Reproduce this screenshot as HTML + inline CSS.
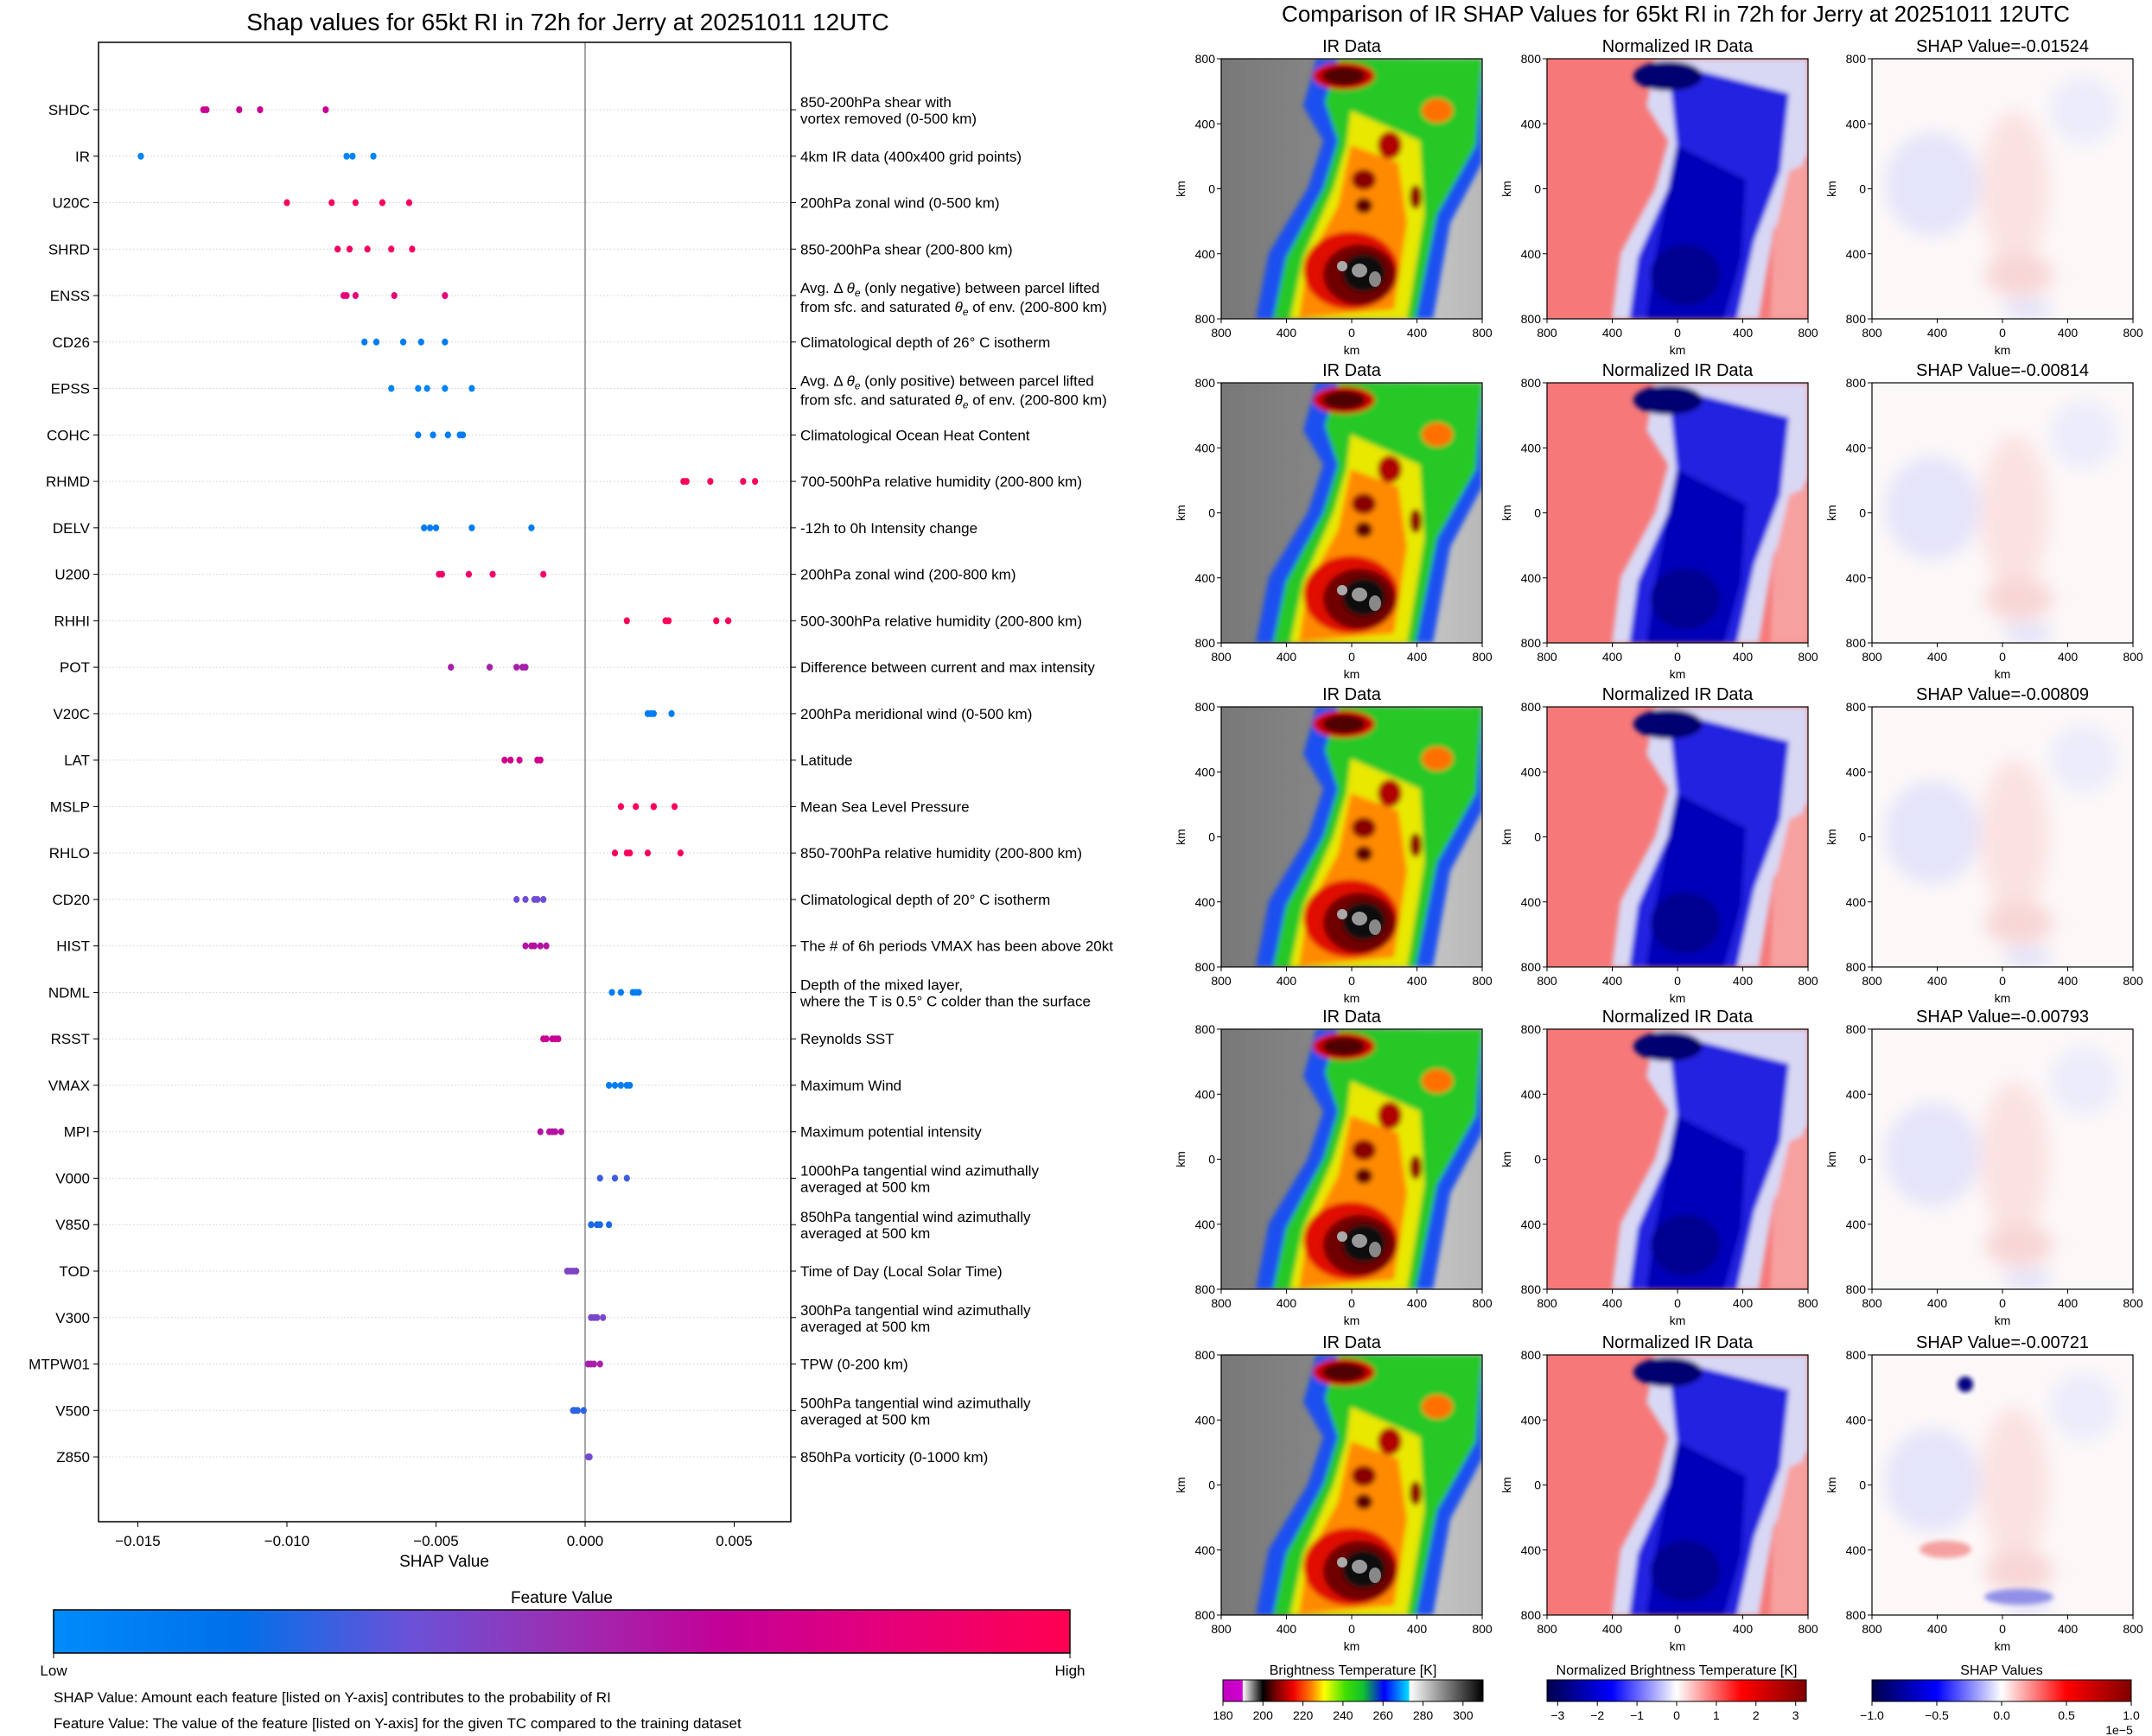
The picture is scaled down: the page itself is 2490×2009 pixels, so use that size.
<!DOCTYPE html>
<html><head><meta charset="utf-8"><style>
html,body{margin:0;padding:0;background:#fff}
svg{display:block;font-family:"Liberation Sans","DejaVu Sans",sans-serif}
</style></head><body>
<svg id="fig" width="2490" height="2009" viewBox="0 0 2490 2009" xmlns="http://www.w3.org/2000/svg">
<defs>
  <linearGradient id="featGrad" x1="0" x2="1" y1="0" y2="0">
    <stop offset="0" stop-color="#008bfb"/><stop offset="0.18" stop-color="#0070ea"/>
    <stop offset="0.35" stop-color="#6a52d8"/><stop offset="0.5" stop-color="#9a2fb2"/>
    <stop offset="0.66" stop-color="#c40097"/><stop offset="0.82" stop-color="#e5007a"/>
    <stop offset="1" stop-color="#ff0052"/>
  </linearGradient>
  <linearGradient id="irGrad" x1="0" x2="1">
    <stop offset="0" stop-color="#c000c0"/><stop offset="0.075" stop-color="#d000d0"/>
    <stop offset="0.077" stop-color="#ffffff"/><stop offset="0.154" stop-color="#000000"/>
    <stop offset="0.2" stop-color="#700000"/><stop offset="0.27" stop-color="#f00000"/>
    <stop offset="0.34" stop-color="#ff8000"/><stop offset="0.39" stop-color="#ffff00"/>
    <stop offset="0.47" stop-color="#40e000"/><stop offset="0.54" stop-color="#10c030"/>
    <stop offset="0.62" stop-color="#0000ff"/><stop offset="0.715" stop-color="#00e0ff"/>
    <stop offset="0.717" stop-color="#ffffff"/>
    <stop offset="1" stop-color="#000000"/>
  </linearGradient>
  <linearGradient id="seisGrad" x1="0" x2="1">
    <stop offset="0" stop-color="#00004c"/><stop offset="0.25" stop-color="#0000ff"/>
    <stop offset="0.5" stop-color="#ffffff"/><stop offset="0.75" stop-color="#ff0000"/>
    <stop offset="1" stop-color="#800000"/>
  </linearGradient>
  <linearGradient id="irBg" x1="0" x2="1">
    <stop offset="0" stop-color="#787878"/><stop offset="0.5" stop-color="#8a8a8a"/>
    <stop offset="0.8" stop-color="#c4c4c4"/><stop offset="1" stop-color="#b8b8b8"/>
  </linearGradient>
  <filter id="bl" x="-20%" y="-20%" width="140%" height="140%"><feGaussianBlur stdDeviation="3"/></filter>
  <filter id="bl2" x="-30%" y="-30%" width="160%" height="160%"><feGaussianBlur stdDeviation="10"/></filter>
  <clipPath id="pc"><rect x="0" y="0" width="302" height="301"/></clipPath>
  <g id="irImg" clip-path="url(#pc)">
    <rect width="302" height="301" fill="url(#irBg)"/>
    <g filter="url(#bl)">
      <path d="M110,0 L302,0 L302,120 L265,190 L245,301 L40,301 L55,225 L100,150 L118,95 L95,55Z" fill="#1a50f0"/>
      <path d="M135,0 L302,0 L295,100 L250,180 L225,301 L60,301 L75,230 L118,150 L135,95 L120,50Z" fill="#28c828"/>
      <path d="M150,60 L230,95 L235,180 L215,301 L80,301 L95,230 L130,150 L145,100Z" fill="#e8e800"/>
      <path d="M150,100 L205,120 L215,190 L200,290 L90,300 L100,235 L135,170Z" fill="#ff8a00"/>
      <ellipse cx="150" cy="245" rx="55" ry="45" fill="#e01000"/>
      <ellipse cx="160" cy="250" rx="42" ry="35" fill="#700000"/>
      <ellipse cx="165" cy="248" rx="25" ry="22" fill="#111"/>
      <ellipse cx="142" cy="20" rx="36" ry="16" fill="#d00000"/>
      <ellipse cx="142" cy="20" rx="25" ry="11" fill="#500000"/>
      <ellipse cx="165" cy="140" rx="14" ry="12" fill="#8a0000"/>
      <ellipse cx="165" cy="170" rx="10" ry="9" fill="#600000"/>
      <ellipse cx="225" cy="160" rx="7" ry="14" fill="#900000"/>
      <ellipse cx="250" cy="60" rx="18" ry="14" fill="#ff7000"/>
      <ellipse cx="195" cy="100" rx="14" ry="16" fill="#b00000"/>
    </g>
    <ellipse cx="160" cy="245" rx="9" ry="8" fill="#999"/><ellipse cx="178" cy="255" rx="7" ry="9" fill="#888"/>
    <ellipse cx="140" cy="240" rx="6" ry="6" fill="#aaa"/>
  </g>
  <g id="nrImg" clip-path="url(#pc)">
    <rect width="302" height="301" fill="#f67878"/>
    <g filter="url(#bl)">
      <path d="M125,0 L302,0 L302,110 L262,200 L245,301 L75,301 L85,225 L125,150 L140,95 L115,55Z" fill="#d8d8f4"/>
      <path d="M140,5 L280,40 L270,130 L240,210 L220,301 L95,301 L105,230 L140,150 L150,100Z" fill="#2020e0"/>
      <path d="M150,100 L230,140 L225,230 L205,301 L115,301 L125,230 Z" fill="#0000b8"/>
      <ellipse cx="140" cy="20" rx="40" ry="17" fill="#000070"/>
      <ellipse cx="160" cy="250" rx="40" ry="35" fill="#000090"/>
      <path d="M280,130 L302,120 L302,301 L258,301 L262,210Z" fill="#f7a0a0"/>
    </g>
  </g>
  <g id="shImg" clip-path="url(#pc)">
    <rect width="302" height="301" fill="#fdf8f8"/>
    <g filter="url(#bl2)">
      <ellipse cx="70" cy="145" rx="55" ry="60" fill="#e4e4fa"/>
      <ellipse cx="165" cy="150" rx="40" ry="90" fill="#fbe2e2"/>
      <ellipse cx="170" cy="250" rx="40" ry="25" fill="#f8d6d6"/>
      <ellipse cx="245" cy="60" rx="40" ry="40" fill="#ececfb"/>
      <ellipse cx="180" cy="290" rx="30" ry="12" fill="#e2e2f8"/>
    </g>
  </g>
</defs>
</svg>
<script>
// ---------- beeswarm data ----------
const features = ["SHDC","IR","U20C","SHRD","ENSS","CD26","EPSS","COHC","RHMD","DELV","U200","RHHI","POT","V20C","LAT","MSLP","RHLO","CD20","HIST","NDML","RSST","VMAX","MPI","V000","V850","TOD","V300","MTPW01","V500","Z850"];
const descriptions = [
 ["850-200hPa shear with","vortex removed (0-500 km)"],["4km IR data (400x400 grid points)"],["200hPa zonal wind (0-500 km)"],
 ["850-200hPa shear (200-800 km)"],["AVGNEG"],["Climatological depth of 26° C isotherm"],["AVGPOS"],
 ["Climatological Ocean Heat Content"],["700-500hPa relative humidity (200-800 km)"],["-12h to 0h Intensity change"],
 ["200hPa zonal wind (200-800 km)"],["500-300hPa relative humidity (200-800 km)"],["Difference between current and max intensity"],
 ["200hPa meridional wind (0-500 km)"],["Latitude"],["Mean Sea Level Pressure"],["850-700hPa relative humidity (200-800 km)"],
 ["Climatological depth of 20° C isotherm"],["The # of 6h periods VMAX has been above 20kt"],
 ["Depth of the mixed layer,","where the T is 0.5° C colder than the surface"],["Reynolds SST"],["Maximum Wind"],["Maximum potential intensity"],
 ["1000hPa tangential wind azimuthally","averaged at 500 km"],["850hPa tangential wind azimuthally","averaged at 500 km"],
 ["Time of Day (Local Solar Time)"],["300hPa tangential wind azimuthally","averaged at 500 km"],["TPW (0-200 km)"],
 ["500hPa tangential wind azimuthally","averaged at 500 km"],["850hPa vorticity (0-1000 km)"]];
// SHAP values in units of 1e-3
const shapValues = [
 [-12.8,-12.7,-11.6,-10.9,-8.7],[-14.9,-8.0,-7.8,-7.1],[-10.0,-8.5,-7.7,-6.8,-5.9],[-8.3,-7.9,-7.3,-6.5,-5.8],
 [-8.1,-8.0,-7.7,-6.4,-4.7],[-7.4,-7.0,-6.1,-5.5,-4.7],[-6.5,-5.6,-5.3,-4.7,-3.8],[-5.6,-5.1,-4.6,-4.2,-4.1],
 [3.3,3.4,4.2,5.3,5.7],[-5.4,-5.2,-5.0,-3.8,-1.8],[-4.9,-4.8,-3.9,-3.1,-1.4],[1.4,2.7,2.8,4.4,4.8],
 [-4.5,-3.2,-2.3,-2.1,-2.0],[2.1,2.2,2.3,2.9],[-2.7,-2.5,-2.2,-1.6,-1.5],[1.2,1.7,2.3,2.3,3.0],
 [1.0,1.4,1.5,2.1,3.2],[-2.3,-2.0,-1.7,-1.6,-1.4],[-2.0,-1.8,-1.7,-1.5,-1.3],[0.9,1.2,1.6,1.7,1.8],
 [-1.4,-1.3,-1.1,-1.0,-0.9],[0.8,1.0,1.2,1.4,1.5],[-1.5,-1.2,-1.1,-1.0,-0.8],[0.5,1.0,1.4],
 [0.2,0.4,0.5,0.8],[-0.6,-0.5,-0.4,-0.3],[0.2,0.3,0.4,0.6],[0.1,0.2,0.3,0.5],[-0.4,-0.35,-0.25,-0.05],[0.1,0.15]];
// feature value (0 low .. 1 high) per row
const featureValues = [0.68,0.05,0.95,0.93,0.82,0.1,0.05,0.1,0.97,0.1,0.9,0.97,0.55,0.1,0.72,0.95,0.95,0.37,0.6,0.1,0.68,0.1,0.6,0.28,0.22,0.42,0.4,0.55,0.25,0.38];
const xTicks = [-0.015,-0.010,-0.005,0.000,0.005];
const xTickLabels = ["\u22120.015","\u22120.010","\u22120.005","0.000","0.005"];
const shapTitles = ["SHAP Value=-0.01524","SHAP Value=-0.00814","SHAP Value=-0.00809","SHAP Value=-0.00793","SHAP Value=-0.00721"];

const NS="http://www.w3.org/2000/svg", svg=document.getElementById('fig');
function mk(tag,attrs,parent,text){const e=document.createElementNS(NS,tag);for(const k in attrs)e.setAttribute(k,attrs[k]);if(text!==undefined)e.textContent=text;(parent||svg).appendChild(e);return e;}

const AX={l:114,r:915,t:49,b:1761}, X0=677, PX=34500;
const xs=v=>X0+v*PX, ys=i=>127+i*53.76;
const stops=[[0,[0,139,251]],[0.18,[0,112,234]],[0.35,[106,82,216]],[0.5,[154,47,178]],[0.66,[196,0,151]],[0.82,[229,0,122]],[1,[255,0,82]]];
function cmap(t){for(let i=1;i<stops.length;i++){if(t<=stops[i][0]){const a=stops[i-1],b=stops[i],f=(t-a[0])/(b[0]-a[0]);return 'rgb('+a[1].map((c,j)=>Math.round(c+(b[1][j]-c)*f)).join(',')+')';}}return 'rgb(255,0,82)';}

let t=mk('text',{x:657,y:35,'font-size':28,'text-anchor':'middle'},svg,'Shap values for 65kt RI in 72h for Jerry at 20251011 12UTC');

const plot=mk('g',{});
features.forEach((f,i)=>{
  const y=ys(i);
  mk('line',{x1:AX.l,x2:AX.r,y1:y,y2:y,stroke:'#d0d0d0','stroke-width':1,'stroke-dasharray':'1.5,2.5'},plot);
  mk('line',{x1:AX.l-6,x2:AX.l,y1:y,y2:y,stroke:'#000'},plot);
  mk('line',{x1:AX.r,x2:AX.r+6,y1:y,y2:y,stroke:'#000'},plot);
  const lb=mk('text',{x:AX.l-10,y:y+6,'font-size':17,'text-anchor':'end'},plot,f);
  
  const d=descriptions[i], dg=mk('g',{},plot);
  
  const lines=d.length, x=926;
  d.forEach((s,k)=>{
    const yy = lines===1? y+6 : y-3+k*19;
    if(s==='AVGNEG'||s==='AVGPOS'){
      const w=s==='AVGNEG'?'negative':'positive';
      const a=mk('text',{x:x,y:y-3,'font-size':17},dg);
      a.innerHTML='Avg. \u0394 <tspan font-style="italic">\u03b8</tspan><tspan font-size="12" dy="4" font-style="italic">e</tspan><tspan dy="-4"> (only '+w+') between parcel lifted</tspan>';
      const b=mk('text',{x:x,y:y+19,'font-size':17},dg);
      b.innerHTML='from sfc. and saturated <tspan font-style="italic">\u03b8</tspan><tspan font-size="12" dy="4" font-style="italic">e</tspan><tspan dy="-4"> of env. (200-800 km)</tspan>';
    } else mk('text',{x:x,y:yy,'font-size':17},dg,s);
  });
});
mk('line',{x1:xs(0),x2:xs(0),y1:AX.t,y2:AX.b,stroke:'#888','stroke-width':1.5},plot);
shapValues.forEach((vals,i)=>{vals.forEach((v,j)=>{
  const c=mk('ellipse',{cx:xs(v/1000),cy:ys(i),rx:3.6,ry:4,fill:cmap(featureValues[i])},plot);
  
  
});});
mk('rect',{x:AX.l,y:AX.t,width:AX.r-AX.l,height:AX.b-AX.t,fill:'none',stroke:'#000','stroke-width':1.5},plot);
xTicks.forEach((v,k)=>{
  mk('line',{x1:xs(v),x2:xs(v),y1:AX.b,y2:AX.b+6,stroke:'#000'},plot);
  const tl=mk('text',{x:xs(v),y:AX.b+28,'font-size':17,'text-anchor':'middle'},plot,xTickLabels[k]);
  
});
t=mk('text',{x:514,y:1813,'font-size':19,'text-anchor':'middle'},svg,'SHAP Value');
// feature colorbar
const cb=mk('g',{});
mk('text',{x:650,y:1855,'font-size':19,'text-anchor':'middle'},cb,'Feature Value');
mk('rect',{x:62,y:1863,width:1176,height:50,fill:'url(#featGrad)',stroke:'#000','stroke-width':1.5},cb);
mk('line',{x1:62,x2:62,y1:1913,y2:1919,stroke:'#000'},cb);mk('line',{x1:1238,x2:1238,y1:1913,y2:1919,stroke:'#000'},cb);
mk('text',{x:62,y:1939,'font-size':17,'text-anchor':'middle'},cb,'Low');
mk('text',{x:1238,y:1939,'font-size':17,'text-anchor':'middle'},cb,'High');
t=mk('text',{x:62,y:1970,'font-size':17},svg,'SHAP Value: Amount each feature [listed on Y-axis] contributes to the probability of RI');
t=mk('text',{x:62,y:2000,'font-size':17},svg,'Feature Value: The value of the feature [listed on Y-axis] for the given TC compared to the training dataset');

// ---------- right panels ----------
t=mk('text',{x:1939,y:25,'font-size':26,'text-anchor':'middle'},svg,'Comparison of IR SHAP Values for 65kt RI in 72h for Jerry at 20251011 12UTC');

const colX=[1413,1790,2166], rowY=[68,443,818,1191,1568], PW=302, PH=301;
const kmTicks=["800","400","0","400","800"];
rowY.forEach((py,r)=>{
  colX.forEach((px,c)=>{
    const g=mk('g',{});
    
    
    mk('use',{href:['#irImg','#nrImg','#shImg'][c],x:px,y:py},g);
    if(c===2&&r===4){mk('circle',{cx:px+108,cy:py+34,r:9,fill:'#000080',filter:'url(#bl)'},g);mk('ellipse',{cx:px+170,cy:py+280,rx:40,ry:9,fill:'#9090e8',filter:'url(#bl)'},g);mk('ellipse',{cx:px+85,cy:py+225,rx:30,ry:10,fill:'#f4a0a0',filter:'url(#bl)'},g);}
    mk('rect',{x:px,y:py,width:PW,height:PH,fill:'none',stroke:'#000','stroke-width':1.2},g);
    const title=[ 'IR Data','Normalized IR Data',shapTitles[r]][c];
    mk('text',{x:px+PW/2,y:py-8,'font-size':20,'text-anchor':'middle'},g,title);
    kmTicks.forEach((s,k)=>{
      const yy=py+k*PH/4, xx=px+k*PW/4;
      mk('line',{x1:px-5,x2:px,y1:yy,y2:yy,stroke:'#000'},g);
      mk('text',{x:px-7,y:yy+5,'font-size':14,'text-anchor':'end'},g,s);
      mk('line',{x1:xx,x2:xx,y1:py+PH,y2:py+PH+5,stroke:'#000'},g);
      mk('text',{x:xx,y:py+PH+21,'font-size':14,'text-anchor':'middle'},g,s);
    });
    mk('text',{x:px+PW/2,y:py+PH+41,'font-size':14,'text-anchor':'middle'},g,'km');
    mk('text',{x:0,y:0,'font-size':14,'text-anchor':'middle',transform:'translate('+(px-42)+','+(py+PH/2)+') rotate(-90)'},g,'km');
  });
});
// bottom colorbars
const cbs=[
 {x:1415,w:301,grad:'irGrad',label:'Brightness Temperature [K]',name:'brightness-colorbar',ticks:["180","200","220","240","260","280","300"],pos:[0,0.1538,0.3077,0.4615,0.6154,0.7692,0.923]},
 {x:1790,w:300,grad:'seisGrad',label:'Normalized Brightness Temperature [K]',name:'normalized-colorbar',ticks:["\u22123","\u22122","\u22121","0","1","2","3"],pos:[0.041,0.194,0.347,0.5,0.653,0.806,0.959]},
 {x:2166,w:300,grad:'seisGrad',label:'SHAP Values',name:'shap-colorbar',ticks:["\u22121.0","\u22120.5","0.0","0.5","1.0"],pos:[0,0.25,0.5,0.75,1]}];
cbs.forEach(o=>{
  const g=mk('g',{});
  mk('text',{x:o.x+o.w/2,y:1938,'font-size':16,'text-anchor':'middle'},g,o.label);
  mk('rect',{x:o.x,y:1944,width:o.w,height:25,fill:'url(#'+o.grad+')',stroke:'#000','stroke-width':1},g);
  o.ticks.forEach((s,k)=>{const xx=o.x+o.pos[k]*o.w;
    mk('line',{x1:xx,x2:xx,y1:1969,y2:1974,stroke:'#000'},g);
    mk('text',{x:xx,y:1990,'font-size':14,'text-anchor':'middle'},g,s);});
});
t=mk('text',{x:2452,y:2007,'font-size':14,'text-anchor':'middle'},svg,'1e\u22125');
</script>
</body></html>
